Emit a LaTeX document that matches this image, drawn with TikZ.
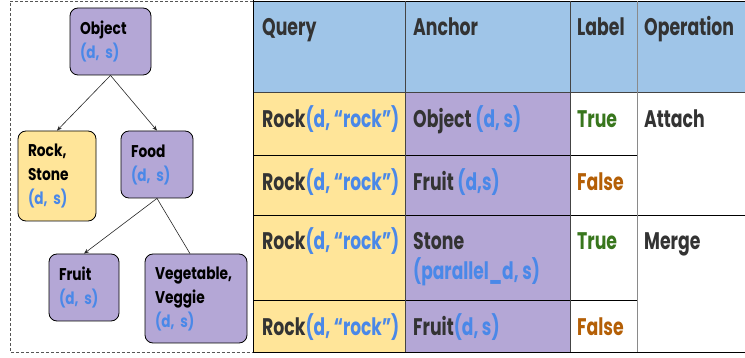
\documentclass[tikz,border=0pt]{standalone}
\usepackage{fontspec}
\usetikzlibrary{arrows.meta}

% Geometric sans, narrowed to the column widths
\newcommand\mkfam[3]{%
  \IfFontExistsTF{#2}{\newfontfamily#1{#2}[FakeStretch=#3]}%
                     {\newfontfamily#1{Poppins}[FakeStretch=#3]}}
\mkfam\treeB{Poppins Bold}{0.81}
\mkfam\treeM{Poppins Bold}{0.80}
\mkfam\tabS{Poppins Bold}{0.72}
\mkfam\tabM{Poppins Bold}{0.71}

\definecolor{hdrblue}{HTML}{9FC5E8}
\definecolor{qyellow}{HTML}{FFE599}
\definecolor{apurple}{HTML}{B4A7D6}
\definecolor{tblue}{HTML}{4A88E8}
\definecolor{tgreen}{HTML}{38761D}
\definecolor{torange}{HTML}{B45F06}
\definecolor{txtdark}{HTML}{333333}
\definecolor{rulegray}{HTML}{444444}
\definecolor{lightrule}{HTML}{8A8A8A}
\definecolor{dashgray}{HTML}{555555}

\newcommand\ds{{\treeM\textcolor{tblue}{(d, s)}}}
\newcommand\bl[1]{{\tabM\textcolor{tblue}{#1}}}
\newcommand\rockq{Rock\bl{(d, “rock”)}}

\tikzset{
  tnode/.style={draw=black, line width=0.8pt, rounded corners=8pt, align=left,
    inner xsep=10pt, inner ysep=0pt, text=black,
    font=\treeB\fontsize{17}{24}\selectfont},
  ttext/.style={anchor=base west, inner sep=0pt, text=txtdark,
    font=\tabS\fontsize{24}{30}\selectfont},
  link/.style={line width=0.6pt, draw=black!85},
  linkarrow/.style={link, -{Stealth[length=5pt,width=4pt]}},
  grid/.style={line width=0.9pt},
  framebox/.style={draw=dashgray, line width=0.8pt, dash pattern=on 3pt off 2pt},
}

\begin{document}
\begin{tikzpicture}[x=1pt, y=-1pt]
\useasboundingbox (0,0) rectangle (745,358);

% ---------- taxonomy panel ----------
\draw[framebox] (253,1.5) -- (10,1.5) -- (10,352) -- (253,352);

\node[tnode, fill=apurple, text width=61pt, minimum height=67pt] (obj) at (110.5,41.5)
  {Object\\\ds};
\node[tnode, fill=qyellow, text width=58pt, minimum height=90pt] (rock) at (57,176)
  {Rock,\\Stone\\\ds};
\node[tnode, fill=apurple, text width=52pt, minimum height=67pt] (food) at (157,164.5)
  {Food\\\ds};
\node[tnode, fill=apurple, text width=50pt, minimum height=67pt] (fruit) at (84,287.5)
  {Fruit\\\ds};
\node[tnode, fill=apurple, text width=82pt, minimum height=89pt] (veg) at (196,298.5)
  {Vegetable,\\Veggie\\\ds};

\draw[linkarrow] (obj.south) -- (rock.north);
\draw[linkarrow] (obj.south) -- (food.north);
\draw[linkarrow] (food.south) -- (fruit.north);
\draw[link] (food.south) -- ([xshift=-6pt]veg.north);

% ---------- table ----------
\fill[hdrblue] (253,1) rectangle (745,92);
\fill[qyellow] (253,92) rectangle (405,352);
\fill[apurple] (405,92) rectangle (570,352);

\draw[grid] (253,1) -- (745,1);
\draw[grid, draw=rulegray] (253,92) -- (745,92);
\draw[grid] (253,155) -- (637,155);
\draw[grid] (253,215) -- (745,215);
\draw[grid] (253,300) -- (637,300);
\draw[grid] (253,352) -- (745,352);
\draw[grid] (253,0) -- (253,352);
\draw[grid, draw=rulegray] (405,1) -- (405,352);
\draw[grid, draw=rulegray] (570,1) -- (570,352);
\draw[grid, draw=lightrule] (637,1) -- (637,352);

% header
\node[ttext] (hq) at (262,36) {Query};
\node[ttext] (ha) at (413,36) {Anchor};
\node[ttext] (hl) at (577,36) {Label};
\node[ttext] (ho) at (644,36) {Operation};

% row 1
\node[ttext] (q1) at (262,128) {\rockq};
\node[ttext] (a1) at (413,128) {Object \bl{(d, s)}};
\node[ttext, text=tgreen] (l1) at (577,128) {True};
\node[ttext] (o1) at (644,128) {Attach};

% row 2
\node[ttext] (q2) at (262,191) {\rockq};
\node[ttext] (a2) at (413,191) {Fruit \bl{(d,s)}};
\node[ttext, text=torange] (l2) at (577,191) {False};

% row 3
\node[ttext] (q3) at (262,250) {\rockq};
\node[ttext] (a3) at (413,250) {Stone};
\node[ttext] (a3b) at (413,280) {\bl{(parallel\_d, s)}};
\node[ttext, text=tgreen] (l3) at (577,250) {True};
\node[ttext] (o3) at (644,250) {Merge};

% row 4
\node[ttext] (q4) at (262,335) {\rockq};
\node[ttext] (a4) at (413,335) {Fruit\bl{(d, s)}};
\node[ttext, text=torange] (l4) at (577,335) {False};
\end{tikzpicture}
\end{document}
